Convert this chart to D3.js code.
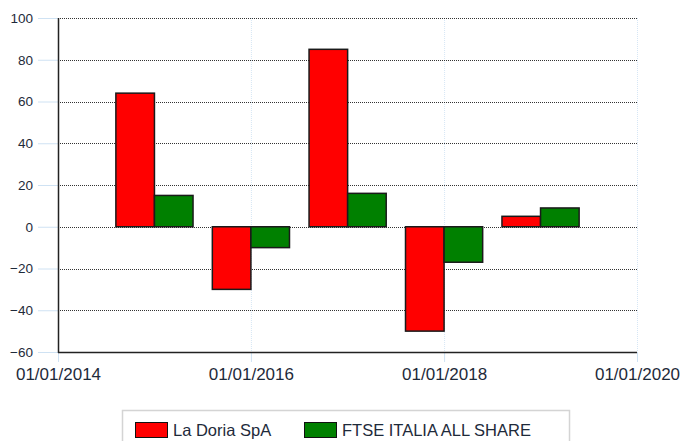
<!DOCTYPE html>
<html>
<head>
<meta charset="utf-8">
<script src="https://cdn.jsdelivr.net/npm/d3@7"></script>
<style>
  html, body { margin: 0; padding: 0; background: #fff; }
  svg { display: block; }
</style>
</head>
<body>
<svg id="chart" width="681" height="441"></svg>
<script>
const barDates = ["2015-01-01", "2016-01-01", "2017-01-01", "2018-01-01", "2019-01-01"];
const laDoria = [64, -30, 85, -50, 5];
const ftse = [15, -10, 16, -17, 9];
const seriesNames = ["La Doria SpA", "FTSE ITALIA ALL SHARE"];
const seriesColors = ["#ff0000", "#008000"];
const xTickDates = ["2014-01-01", "2016-01-01", "2018-01-01", "2020-01-01"];
const yTicks = [-60, -40, -20, 0, 20, 40, 60, 80, 100];

(function () {
const parse = d3.timeParse("%Y-%m-%d");
const fmt = d3.timeFormat("%d/%m/%Y");
const svg = d3.select("#chart");
const pL = 58, pR = 637, pT = 18, pB = 352;
const FONT = "'Liberation Sans', Arial, sans-serif";

const x = d3.scaleTime().domain([parse("2014-01-01"), parse("2020-01-01")]).range([pL, pR]);
const y = d3.scaleLinear().domain([-60, 100]).range([pB, pT]);

const oneYear = x(parse("2015-01-01")) - x(parse("2014-01-01"));
const barW = oneYear * 0.4;

// vertical faint grid lines
svg.append("g").selectAll("line").data(xTickDates.slice(1)).join("line")
  .attr("x1", d => x(parse(d)) + 0.5).attr("x2", d => x(parse(d)) + 0.5)
  .attr("y1", pT).attr("y2", pB)
  .attr("stroke", "#d6e6f5").attr("stroke-dasharray", "1,1");

// horizontal dotted grid lines
svg.append("g").selectAll("line").data(yTicks.filter(v => v > -60)).join("line")
  .attr("x1", pL).attr("x2", pR)
  .attr("y1", d => Math.round(y(d)) + 0.5).attr("y2", d => Math.round(y(d)) + 0.5)
  .attr("stroke", "#333").attr("stroke-dasharray", "1,1");

// y axis
const yAxis = d3.axisLeft(y).tickValues(yTicks).tickSize(20).tickPadding(5).tickFormat(d3.format("d"));
const gy = svg.append("g").attr("transform", `translate(${pL},0)`).call(yAxis);
gy.select(".domain").remove();
gy.selectAll(".tick line").attr("stroke", "#cfe2f3");
gy.selectAll(".tick text").attr("font-family", FONT).attr("font-size", "13.5px").attr("fill", "#1e2a3a");

// x axis
const xAxis = d3.axisBottom(x).tickValues(xTickDates.map(parse)).tickSize(10).tickPadding(6).tickFormat(fmt);
const gx = svg.append("g").attr("transform", `translate(0,${pB})`).call(xAxis);
gx.select(".domain").remove();
gx.selectAll(".tick line").attr("stroke", "#cfe2f3");
gx.selectAll(".tick text").attr("font-family", FONT).attr("font-size", "17px").attr("fill", "#1e2a3a");

// bars
const series = [laDoria, ftse];
series.forEach((vals, s) => {
  svg.append("g").selectAll("rect").data(barDates).join("rect")
    .attr("x", d => x(parse(d)) - barW + s * barW)
    .attr("width", barW)
    .attr("y", (d, i) => y(Math.max(0, vals[i])))
    .attr("height", (d, i) => Math.abs(y(vals[i]) - y(0)))
    .attr("fill", seriesColors[s])
    .attr("stroke", "#1a1a1a").attr("stroke-width", 1.5);
});

// axis lines
svg.append("line").attr("x1", pL + 0.5).attr("x2", pL + 0.5).attr("y1", pT).attr("y2", pB + 1)
  .attr("stroke", "#222").attr("stroke-width", 1.5);
svg.append("line").attr("x1", pL).attr("x2", pR).attr("y1", pB + 0.5).attr("y2", pB + 0.5)
  .attr("stroke", "#222").attr("stroke-width", 1.5);

// legend
const lg = svg.append("g");
lg.append("rect").attr("x", 122.5).attr("y", 410.5).attr("width", 447).attr("height", 40)
  .attr("fill", "#fff").attr("stroke", "#d4d4d4").attr("stroke-width", 1.5);
const legendX = [135, 304];
seriesNames.forEach((name, i) => {
  lg.append("rect").attr("x", legendX[i] + 0.5).attr("y", 422.5).attr("width", 32).attr("height", 15)
    .attr("fill", seriesColors[i]).attr("stroke", "#111").attr("stroke-width", 1);
  lg.append("text").attr("x", legendX[i] + 38).attr("y", 436)
    .attr("font-family", FONT).attr("font-size", "16.5px").attr("fill", "#1e2a3a").text(name);
});
})();
</script>
</body>
</html>
